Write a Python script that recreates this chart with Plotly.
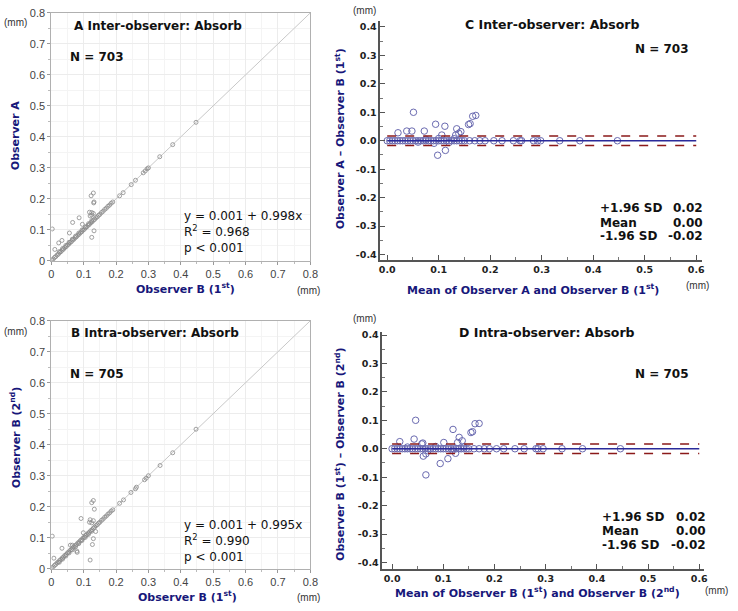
import plotly.graph_objects as go

# ---------------- data ----------------
# Panel A: Observer A vs Observer B (1st)
a_x = [0.002, 0.006, 0.010, 0.014, 0.018, 0.022, 0.026, 0.030, 0.034, 0.038, 0.042, 0.046,
       0.050, 0.054, 0.058, 0.062, 0.066, 0.070, 0.074, 0.078, 0.082, 0.086, 0.090, 0.094,
       0.098, 0.102, 0.106, 0.110, 0.114, 0.118, 0.122, 0.126, 0.130, 0.134, 0.138, 0.142,
       0.146, 0.150, 0.155, 0.160, 0.165, 0.170, 0.175, 0.180, 0.185, 0.190,
       0.025, 0.035, 0.045, 0.055, 0.065, 0.075, 0.085, 0.095, 0.105, 0.115, 0.125,
       0.211, 0.222, 0.247, 0.260, 0.284, 0.290, 0.296, 0.300, 0.335, 0.375, 0.447,
       0.003, 0.011, 0.023, 0.033, 0.056, 0.066, 0.086, 0.096, 0.118, 0.125, 0.123, 0.130,
       0.131, 0.132, 0.125, 0.130, 0.132, 0.125, 0.120]
a_y = [0.003, 0.006, 0.011, 0.014, 0.019, 0.022, 0.027, 0.030, 0.035, 0.038, 0.043, 0.046,
       0.051, 0.054, 0.059, 0.062, 0.067, 0.070, 0.075, 0.078, 0.083, 0.086, 0.091, 0.094,
       0.099, 0.102, 0.107, 0.110, 0.115, 0.118, 0.123, 0.126, 0.131, 0.134, 0.139, 0.142,
       0.147, 0.150, 0.156, 0.160, 0.166, 0.170, 0.176, 0.180, 0.186, 0.190,
       0.030, 0.040, 0.050, 0.060, 0.070, 0.080, 0.090, 0.100, 0.110, 0.120, 0.130,
       0.210, 0.220, 0.246, 0.260, 0.284, 0.290, 0.297, 0.300, 0.336, 0.375, 0.447,
       0.103, 0.037, 0.058, 0.066, 0.090, 0.124, 0.139, 0.118, 0.157, 0.156, 0.210, 0.219,
       0.187, 0.190, 0.148, 0.153, 0.097, 0.076, 0.145]

# Panel B: Observer B (2nd) vs Observer B (1st)
b_x = [0.002, 0.006, 0.010, 0.014, 0.018, 0.022, 0.026, 0.030, 0.034, 0.038, 0.042, 0.046,
       0.050, 0.054, 0.058, 0.062, 0.066, 0.070, 0.074, 0.078, 0.082, 0.086, 0.090, 0.094,
       0.098, 0.102, 0.106, 0.110, 0.114, 0.118, 0.122, 0.126, 0.130, 0.134, 0.138, 0.142,
       0.146, 0.150, 0.155, 0.160, 0.165, 0.170, 0.175, 0.180, 0.185, 0.190,
       0.025, 0.035, 0.045, 0.055, 0.065, 0.075, 0.085, 0.095, 0.105, 0.115, 0.125,
       0.211, 0.223, 0.246, 0.260, 0.263, 0.288, 0.293, 0.300, 0.336, 0.375, 0.447,
       0.003, 0.008, 0.033, 0.059, 0.065, 0.079, 0.080, 0.092, 0.099, 0.120, 0.118, 0.125,
       0.130, 0.133, 0.130, 0.130, 0.127, 0.120, 0.137, 0.125]
b_y = [0.003, 0.006, 0.011, 0.014, 0.019, 0.022, 0.027, 0.030, 0.035, 0.038, 0.043, 0.046,
       0.051, 0.054, 0.059, 0.062, 0.067, 0.070, 0.075, 0.078, 0.083, 0.086, 0.091, 0.094,
       0.099, 0.102, 0.107, 0.110, 0.115, 0.118, 0.123, 0.126, 0.131, 0.134, 0.139, 0.142,
       0.147, 0.150, 0.156, 0.160, 0.166, 0.170, 0.176, 0.180, 0.186, 0.190,
       0.021, 0.031, 0.041, 0.051, 0.061, 0.071, 0.081, 0.091, 0.101, 0.111, 0.121,
       0.211, 0.222, 0.246, 0.258, 0.263, 0.287, 0.292, 0.300, 0.333, 0.374, 0.450,
       0.105, 0.034, 0.066, 0.076, 0.076, 0.057, 0.053, 0.162, 0.116, 0.158, 0.150, 0.213,
       0.220, 0.192, 0.155, 0.097, 0.078, 0.028, 0.120, 0.148]

# Panel C: Bland-Altman, Observer A vs Observer B (1st)
c_mean = [0.000, 0.005, 0.010, 0.015, 0.020, 0.025, 0.030, 0.035, 0.040, 0.045, 0.050,
          0.055, 0.060, 0.065, 0.070, 0.075, 0.080, 0.085, 0.090, 0.095, 0.100, 0.105,
          0.110, 0.115, 0.120, 0.125, 0.130, 0.135, 0.140, 0.145, 0.150, 0.160, 0.170,
          0.180, 0.190, 0.207, 0.223, 0.245, 0.258, 0.261, 0.284, 0.292, 0.298, 0.335,
          0.374, 0.447,
          0.060, 0.091, 0.100, 0.120, 0.130, 0.075,
          0.051, 0.021, 0.038, 0.048, 0.072, 0.094, 0.112, 0.106, 0.135, 0.139, 0.143,
          0.133, 0.158, 0.161, 0.166, 0.172, 0.098, 0.113]
c_diff = [0.000, 0.000, 0.000, 0.000, 0.000, 0.000, 0.000, 0.000, 0.000, 0.000, 0.000,
          0.000, 0.000, 0.000, 0.000, 0.000, 0.000, 0.000, 0.000, 0.000, 0.000, 0.000,
          0.000, 0.000, 0.000, 0.000, 0.000, 0.000, 0.000, 0.000, 0.000, 0.000, 0.000,
          0.000, 0.000, 0.000, 0.000, 0.000, 0.000, 0.000, 0.000, 0.000, 0.000, 0.000,
          0.000, 0.000,
          -0.005, -0.009, 0.008, -0.006, 0.007, 0.005,
          0.100, 0.028, 0.034, 0.034, 0.034, 0.058, 0.051, 0.020, 0.042, 0.026, 0.032,
          0.020, 0.057, 0.060, 0.086, 0.089, -0.051, -0.034]

# Panel D: Bland-Altman, Observer B (1st) vs Observer B (2nd)
d_mean = [0.000, 0.005, 0.010, 0.015, 0.020, 0.025, 0.030, 0.035, 0.040, 0.045, 0.050,
          0.055, 0.060, 0.065, 0.070, 0.075, 0.080, 0.085, 0.090, 0.095, 0.100, 0.105,
          0.110, 0.115, 0.120, 0.125, 0.130, 0.135, 0.140, 0.145, 0.150, 0.160, 0.170,
          0.180, 0.190, 0.204, 0.218, 0.240, 0.258, 0.281, 0.285, 0.295, 0.332, 0.372,
          0.446,
          0.030, 0.070, 0.085, 0.118, 0.140,
          0.046, 0.015, 0.043, 0.060, 0.058, 0.119, 0.101, 0.131, 0.137, 0.128, 0.154,
          0.157, 0.162, 0.170, 0.061, 0.066, 0.066, 0.094, 0.109, 0.124]
d_diff = [0.000, 0.000, 0.000, 0.000, 0.000, 0.000, 0.000, 0.000, 0.000, 0.000, 0.000,
          0.000, 0.000, 0.000, 0.000, 0.000, 0.000, 0.000, 0.000, 0.000, 0.000, 0.000,
          0.000, 0.000, 0.000, 0.000, 0.000, 0.000, 0.000, 0.000, 0.000, 0.000, 0.000,
          0.000, 0.000, 0.000, 0.000, 0.000, 0.000, 0.000, 0.000, 0.000, 0.000, 0.000,
          0.000,
          0.006, -0.007, 0.008, -0.006, 0.006,
          0.100, 0.025, 0.034, 0.020, 0.017, 0.068, 0.022, 0.040, 0.028, 0.022, 0.057,
          0.060, 0.088, 0.089, -0.026, -0.018, -0.092, -0.052, -0.035, -0.016]

identity_line = [0.0, 0.8]
ba_line_x = [0.0, 0.6]
c_limits = {"upper": 0.017, "mean": 0.0, "lower": -0.017}
d_limits = {"upper": 0.017, "mean": 0.0, "lower": -0.017}

sc_ticks = [0, 0.1, 0.2, 0.3, 0.4, 0.5, 0.6, 0.7, 0.8]
sc_tick_text = ["0", "0.1", "0.2", "0.3", "0.4", "0.5", "0.6", "0.7", "0.8"]
ba_x_ticks = [0.0, 0.1, 0.2, 0.3, 0.4, 0.5, 0.6]
ba_x_text = ["0.0", "0.1", "0.2", "0.3", "0.4", "0.5", "0.6"]
ba_y_ticks = [-0.4, -0.3, -0.2, -0.1, 0.0, 0.1, 0.2, 0.3, 0.4]
ba_y_text = ["-0.4", "-0.3", "-0.2", "-0.1", "0.0", "0.1", "0.2", "0.3", "0.4"]

# ---------------- styling ----------------
W, H = 738, 611
NAVY = "#17177a"
TXT = "#111111"
BOLD = "DejaVu Sans"
REG = "Liberation Sans"
SC_MARK = dict(symbol="circle-open", size=4, color="#8a8a8a", line=dict(width=0.8))
BA_MARK = dict(symbol="circle-open", size=6.5, color="#6a6ab0", line=dict(width=1))

fig = go.Figure()

# scatter panels
for xs, ys, xa, ya in [(a_x, a_y, "x", "y"), (b_x, b_y, "x2", "y2")]:
    fig.add_trace(go.Scatter(x=identity_line, y=identity_line, mode="lines",
                             line=dict(color="#c8c8c8", width=1), xaxis=xa, yaxis=ya,
                             showlegend=False, hoverinfo="skip"))
    fig.add_trace(go.Scatter(x=xs, y=ys, mode="markers", marker=SC_MARK,
                             xaxis=xa, yaxis=ya, showlegend=False))

# Bland-Altman panels
for ms, ds, lim, xa, ya in [(c_mean, c_diff, c_limits, "x3", "y3"),
                            (d_mean, d_diff, d_limits, "x4", "y4")]:
    fig.add_trace(go.Scatter(x=ms, y=ds, mode="markers", marker=BA_MARK,
                             xaxis=xa, yaxis=ya, showlegend=False))
    fig.add_trace(go.Scatter(x=ba_line_x, y=[lim["mean"]] * 2, mode="lines",
                             line=dict(color="#2a2a9a", width=1.5), xaxis=xa, yaxis=ya,
                             showlegend=False))
    for k in ("upper", "lower"):
        fig.add_trace(go.Scatter(x=ba_line_x, y=[lim[k]] * 2, mode="lines",
                                 line=dict(color="#8b1a1a", width=1.5, dash="dash"),
                                 xaxis=xa, yaxis=ya, showlegend=False))


def px(x):
    return x / W


def py(y):
    return 1 - y / H


def sc_axis(domain, anchor):
    return dict(domain=domain, anchor=anchor, range=[0, 0.8], autorange=False,
                tickvals=sc_ticks, ticktext=sc_tick_text,
                tickfont=dict(family=REG, size=11, color="#444"),
                showline=True, mirror=True, linecolor="#b0b0b0", linewidth=1,
                ticks="outside", ticklen=3, tickcolor="#999",
                showgrid=True, gridcolor="#ececec", gridwidth=1, zeroline=False,
                minor=dict(dtick=0.05, ticks="outside", ticklen=2, tickcolor="#bbb",
                           showgrid=True, gridcolor="#f4f4f4"))


def ba_axis(domain, anchor, rng, vals, text, dminor):
    return dict(domain=domain, anchor=anchor, range=rng, autorange=False,
                tickvals=vals, ticktext=text,
                tickfont=dict(family=BOLD, size=9.5, color="#222", weight="bold"),
                showline=True, linecolor="#555", linewidth=1.5,
                ticks="inside", ticklen=5, tickcolor="#555", tickwidth=1.2,
                showgrid=False, zeroline=False,
                minor=dict(dtick=dminor, ticks="inside", ticklen=3, tickcolor="#777"))


dom_sx = [px(49), px(312)]
fig.update_layout(
    width=W, height=H, margin=dict(l=0, r=0, t=0, b=0),
    paper_bgcolor="white", plot_bgcolor="white", showlegend=False,
    xaxis=sc_axis(dom_sx, "y"),
    yaxis=sc_axis([py(260), py(7)], "x"),
    xaxis2=sc_axis(dom_sx, "y2"),
    yaxis2=sc_axis([py(574), py(321)], "x2"),
    xaxis3=ba_axis([px(383), px(710)], "y3", [-0.0134, 0.612], ba_x_ticks, ba_x_text, 0.05),
    yaxis3=ba_axis([py(259), py(15)], "x3", [-0.419, 0.422], ba_y_ticks, ba_y_text, 0.05),
    xaxis4=ba_axis([px(385), px(712)], "y4", [-0.0192, 0.61], ba_x_ticks, ba_x_text, 0.05),
    yaxis4=ba_axis([py(574), py(333)], "x4", [-0.422, 0.409], ba_y_ticks, ba_y_text, 0.05),
)

annots = []


def ann(text, x, y, size=12, family=BOLD, color=TXT, xanchor="left", angle=0, bold=True):
    annots.append(dict(text=text, x=px(x), y=py(y), xref="paper", yref="paper",
                       xanchor=xanchor, yanchor="middle", showarrow=False, textangle=angle,
                       font=dict(family=family, size=size, color=color,
                                 weight="bold" if bold else "normal")))


# Panel A
ann("(mm)", 13, 17, 10, REG, "#333", "center", bold=False)
ann("A Inter-observer: Absorb", 70, 20, 12)
ann("N = 703", 66, 52, 12)
ann("y = 0.001 + 0.998x", 182, 214, 12, BOLD, TXT, bold=False)
ann("R<sup>2</sup> = 0.968", 182, 230, 12, BOLD, TXT, bold=False)
ann("p < 0.001", 182, 247, 12, BOLD, TXT, bold=False)
ann("Observer A", 13, 132, 11, BOLD, NAVY, "center", -90)
ann("Observer B (1<sup>st</sup>)", 185, 288, 11, BOLD, NAVY, "center")
ann("(mm)", 310, 290, 10, REG, "#333", "center", bold=False)

# Panel B
ann("(mm)", 13, 332, 10, REG, "#333", "center", bold=False)
ann("B Intra-observer: Absorb", 67, 334, 12)
ann("N = 705", 66, 375, 12)
ann("y = 0.001 + 0.995x", 182, 529, 12, BOLD, TXT, bold=False)
ann("R<sup>2</sup> = 0.990", 182, 545, 12, BOLD, TXT, bold=False)
ann("p < 0.001", 182, 562, 12, BOLD, TXT, bold=False)
ann("Observer B (2<sup>nd</sup>)", 13, 440, 11, BOLD, NAVY, "center", -90)
ann("Observer B (1<sup>st</sup>)", 187, 602, 11, BOLD, NAVY, "center")
ann("(mm)", 310, 603, 10, REG, "#333", "center", bold=False)

# Panel C
ann("(mm)", 367, 5, 10, REG, "#333", "center", bold=False)
ann("C Inter-observer: Absorb", 557, 19, 12.5, xanchor="center")
ann("N = 703", 640, 44, 12)
ann("+1.96 SD", 604, 206, 12)
ann("Mean", 604, 221, 12)
ann("-1.96 SD", 604, 235, 12)
ann("0.02", 713, 206, 12, xanchor="right")
ann("0.00", 713, 221, 12, xanchor="right")
ann("-0.02", 713, 235, 12, xanchor="right")
ann("Observer A \u2013 Observer B (1<sup>st</sup>)", 342, 135, 11, BOLD, NAVY, "center", -90)
ann("Mean of Observer A and Observer B (1<sup>st</sup>)", 538, 289, 11, BOLD, NAVY, "center")
ann("(mm)", 705, 285, 10, REG, "#333", "center", bold=False)

# Panel D
ann("(mm)", 367, 319, 10, REG, "#333", "center", bold=False)
ann("D Intra-observer: Absorb", 552, 333, 12.5, xanchor="center")
ann("N = 705", 640, 375, 12)
ann("+1.96 SD", 606, 521, 12)
ann("Mean", 606, 536, 12)
ann("-1.96 SD", 606, 550, 12)
ann("0.02", 716, 521, 12, xanchor="right")
ann("0.00", 716, 536, 12, xanchor="right")
ann("-0.02", 716, 550, 12, xanchor="right")
ann("Observer B (1<sup>st</sup>) \u2013 Observer B (2<sup>nd</sup>)", 342, 457, 11, BOLD, NAVY, "center", -90)
ann("Mean of Observer B (1<sup>st</sup>) and Observer B (2<sup>nd</sup>)", 543, 598, 11, BOLD, NAVY, "center")
ann("(mm)", 738, 596, 10, REG, "#333", "right", bold=False)

fig.update_layout(annotations=annots)
fig.write_html("out.html", config={"displayModeBar": False},
               post_script="document.body.style.margin='0px';document.body.style.overflow='hidden';")
